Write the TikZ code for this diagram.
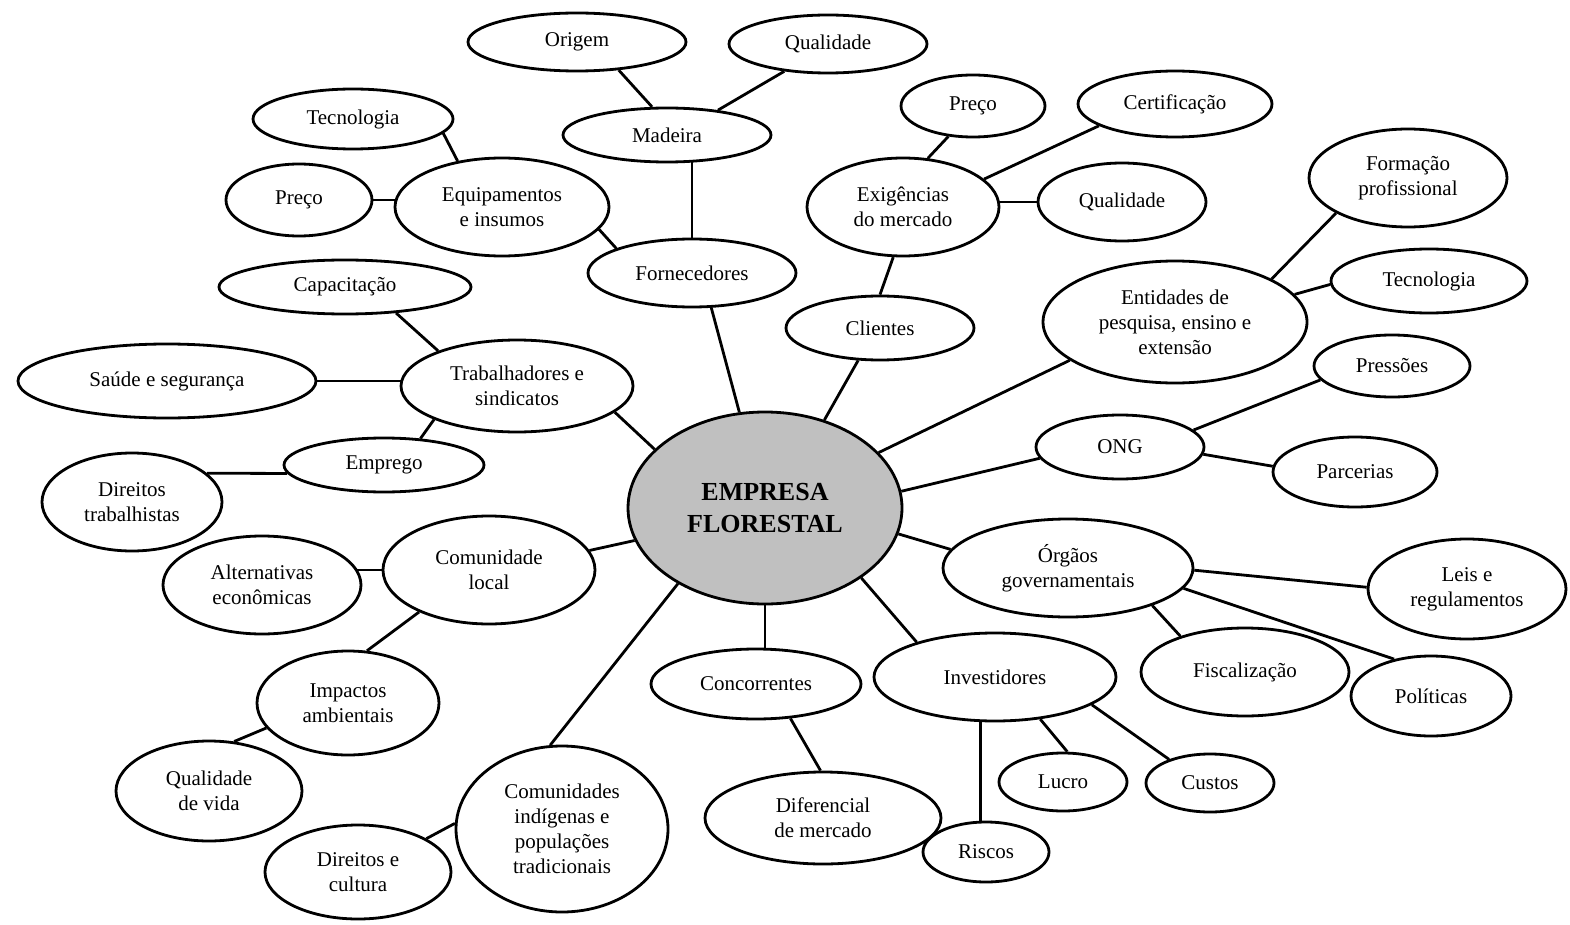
\documentclass[tikz,border=0pt]{standalone}
\usepackage{fontspec}
\setmainfont{Liberation Serif}
\usetikzlibrary{shapes.geometric,backgrounds}
\definecolor{hubgray}{RGB}{192,192,192}
\begin{document}
\begin{tikzpicture}[x=1pt,y=-1pt,
  bub/.style={ellipse, draw, fill=white, line width=2.8pt, inner sep=0pt,
    align=center, font=\fontsize{21}{25}\selectfont},
  hub/.style={bub, fill=hubgray, font=\fontsize{26}{32}\selectfont\bfseries},
  link/.style={line width=2.8pt}]
\useasboundingbox (0,0) rectangle (1570,925);

% central node
\node[hub, minimum width=274pt, minimum height=192pt] (em) at (765,508) {EMPRESA\\FLORESTAL};

% suppliers branch
\node[bub, minimum width=218pt, minimum height=58pt] (orig) at (577,42) {Origem};
\node[bub, minimum width=198pt, minimum height=58pt] (qtop) at (828,44) {Qualidade};
\node[bub, minimum width=208pt, minimum height=54pt] (mad) at (667,135) {Madeira};
\node[bub, minimum width=200pt, minimum height=60pt] (tecl) at (353,119) {Tecnologia};
\node[bub, minimum width=146pt, minimum height=72pt] (prl) at (299,200) {Preço};
\node[bub, minimum width=214pt, minimum height=98pt] (equ) at (502,207) {Equipamentos\\e insumos};
\node[bub, minimum width=208pt, minimum height=68pt] (forn) at (692,273) {Fornecedores};

% clients branch
\node[bub, minimum width=144pt, minimum height=62pt] (prr) at (973,106) {Preço};
\node[bub, minimum width=194pt, minimum height=66pt] (cert) at (1175,104) {Certificação};
\node[bub, minimum width=192pt, minimum height=98pt] (exig) at (903,207) {Exigências\\do mercado};
\node[bub, minimum width=168pt, minimum height=78pt] (qr) at (1122,202) {Qualidade};
\node[bub, minimum width=188pt, minimum height=64pt] (cli) at (880,328) {Clientes};

% research branch
\node[bub, minimum width=198pt, minimum height=98pt] (form) at (1408,178) {Formação\\profissional};
\node[bub, minimum width=196pt, minimum height=64pt] (tecr) at (1429,281) {Tecnologia};
\node[bub, minimum width=264pt, minimum height=122pt] (ent) at (1175,322) {Entidades de\\pesquisa, ensino e\\extensão};

% workers branch
\node[bub, minimum width=252pt, minimum height=54pt] (cap) at (345,287) {Capacitação};
\node[bub, minimum width=298pt, minimum height=74pt] (sau) at (167,381) {Saúde e segurança};
\node[bub, minimum width=232pt, minimum height=92pt] (trab) at (517,386) {Trabalhadores e\\sindicatos};
\node[bub, minimum width=200pt, minimum height=54pt] (emp) at (384,465) {Emprego};
\node[bub, minimum width=180pt, minimum height=98pt] (dtrab) at (132,502) {Direitos\\trabalhistas};

% NGO branch
\node[bub, minimum width=156pt, minimum height=62pt] (pres) at (1392,366) {Pressões};
\node[bub, minimum width=168pt, minimum height=64pt] (ong) at (1120,447) {ONG};
\node[bub, minimum width=164pt, minimum height=70pt] (parc) at (1355,472) {Parcerias};

% local community branch
\node[bub, minimum width=212pt, minimum height=108pt] (cloc) at (489,570) {Comunidade\\local};
\node[bub, minimum width=198pt, minimum height=98pt] (alt) at (262,585) {Alternativas\\econômicas};
\node[bub, minimum width=182pt, minimum height=104pt] (imp) at (348,703) {Impactos\\ambientais};
\node[bub, minimum width=186pt, minimum height=100pt] (qvid) at (209,791) {Qualidade\\de vida};

% government branch
\node[bub, minimum width=250pt, minimum height=98pt] (org) at (1068,568) {Órgãos\\governamentais};
\node[bub, minimum width=198pt, minimum height=100pt] (leis) at (1467,589) {Leis e\\regulamentos};
\node[bub, minimum width=208pt, minimum height=88pt] (fisc) at (1245,672) {Fiscalização};
\node[bub, minimum width=160pt, minimum height=80pt] (pol) at (1431,696) {Políticas};

% competitors and investors
\node[bub, minimum width=210pt, minimum height=70pt] (conc) at (756,684) {Concorrentes};
\node[bub, minimum width=236pt, minimum height=92pt] (dif) at (823,818) {Diferencial\\de mercado};
\node[bub, minimum width=242pt, minimum height=88pt] (inv) at (995,677) {Investidores};
\node[bub, minimum width=128pt, minimum height=58pt] (luc) at (1063,782) {Lucro};
\node[bub, minimum width=128pt, minimum height=58pt] (cus) at (1210,783) {Custos};
\node[bub, minimum width=126pt, minimum height=60pt] (ris) at (986,852) {Riscos};

% traditional communities
\node[bub, minimum width=212pt, minimum height=166pt] (cind) at (562,829) {Comunidades\\indígenas e\\populações\\tradicionais};
\node[bub, minimum width=186pt, minimum height=94pt] (dcul) at (358,872) {Direitos e\\cultura};

\begin{pgfonlayer}{background}
  % suppliers
  \draw[link] (orig.-34) -- (mad.118);
  \draw[link] (qtop.-148) -- (mad.26);
  \draw[link] (forn.north) -- (forn.north |- mad.center);
  \draw[link] (tecl.-9) -- (equ.134);
  \draw[link] (prl) -- (prl -| equ);
  \draw[link] (equ.-13.5) -- (forn.162);
  \draw[link] (forn.-61) -- (em.105);
  % clients
  \draw[link] (prr.-129) -- (exig.63);
  \draw[link] (cert.-164.5) -- (exig.19.5);
  \draw[link] (qr) -- (qr -| exig);
  \draw[link] (exig.-101) -- (cli.90);
  \draw[link] (cli.-124.5) -- (em.56);
  % research
  \draw[link] (form.-154) -- (ent.24);
  \draw[link] (tecr.-178) -- (ent.13);
  \draw[link] (ent.-160.7) -- (em.26.8);
  % workers
  \draw[link] (cap.-27.5) -- (trab.156);
  \draw[link] (sau) -- (sau -| trab);
  \draw[link] (trab.-158) -- (emp.36);
  \draw[link] (trab.-15.4) -- (em.152.5);
  \draw[link] (emp.-175.5) -- (dtrab.21);
  % NGO
  \draw[link] (pres.-169) -- (ong.13);
  \draw[link] (parc.176) -- (ong.-5.7);
  \draw[link] (ong.-172.5) -- (em.7.4);
  % local community
  \draw[link] (cloc.11) -- (em.-166.6);
  \draw[link] (cloc) -- (cloc -| alt);
  \draw[link] (cloc.-149) -- (imp.70);
  \draw[link] (imp.-163.5) -- (qvid.63.4);
  % government
  \draw[link] (org.171.7) -- (em.-11.3);
  \draw[link] (org.-1) -- (leis.179.4);
  \draw[link] (org.-24.6) -- (fisc.151);
  \draw[link] (org.-10.6) -- (pol.135.7);
  % competitors, investors, communities
  \draw[link] (em) -- (em |- conc);
  \draw[link] (em.-36.4) -- (inv.156);
  \draw[link] (em.-139.2) -- (cind.98);
  \draw[link] (conc.-45) -- (dif.93.7);
  \draw[link] (inv.-43) -- (luc.82);
  \draw[link] (inv.-16.4) -- (cus.150);
  \draw[link] (ris.100) -- (ris.100 |- inv);
  \draw[link] (cind.177) -- (dcul.26);
\end{pgfonlayer}
\end{tikzpicture}
\end{document}
